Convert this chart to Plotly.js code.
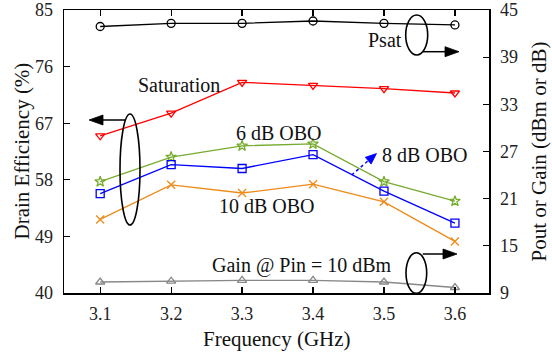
<!DOCTYPE html>
<html>
<head>
<meta charset="utf-8">
<script src="https://cdn.plot.ly/plotly-3.0.1.min.js"></script>
<style>html,body{margin:0;padding:0;background:#fff}#chart{width:552px;height:356px}</style>
</head>
<body>
<div id="chart"></div>
<script>
const freq = [3.1, 3.2, 3.3, 3.4, 3.5, 3.6];
const psat = [42.9, 43.3, 43.3, 43.6, 43.3, 43.1];          // dBm, right axis
const effSat = [65.0, 68.6, 73.5, 73.0, 72.5, 71.8];        // %, left axis
const eff6 = [57.7, 61.6, 63.4, 63.7, 57.7, 54.6];
const eff8 = [55.8, 60.4, 59.8, 62.0, 56.2, 51.1];
const eff10 = [51.7, 57.2, 55.9, 57.3, 54.5, 48.2];
const gain = [10.4, 10.5, 10.6, 10.6, 10.4, 9.7];           // dB, right axis
const xTicks = [3.1, 3.2, 3.3, 3.4, 3.5, 3.6];
const yLeftTicks = [40, 49, 58, 67, 76, 85];
const yRightTicks = [9, 15, 21, 27, 33, 39, 45];

const FONT = '"Liberation Serif", "Times New Roman", Times, serif';

// plot area in pixels
const L = 64, R = 489, T = 10, B = 293;
const px = x => (x - L) / (R - L);
const py = y => (B - y) / (B - T);

function tr(y, color, symbol, yaxis) {
  return {
    x: freq, y: y, type: 'scatter', mode: 'lines+markers', yaxis: yaxis,
    line: {color: color, width: 1.3},
    marker: {symbol: symbol, size: 8, color: color, line: {color: color, width: 1.3}},
    showlegend: false, cliponaxis: false
  };
}

const data = [
  tr(psat, '#000000', 'circle-open', 'y2'),
  tr(effSat, '#ff0000', 'triangle-down-open', 'y'),
  tr(eff6, '#77ac30', 'star-open', 'y'),
  tr(eff8, '#0000ff', 'square-open', 'y'),
  tr(eff10, '#ee8a1a', 'x-thin-open', 'y'),
  tr(gain, '#888888', 'triangle-up-open', 'y2')
];

function ell(x0, x1, y0, y1) {
  return {type: 'circle', xref: 'paper', yref: 'paper',
    x0: px(x0), x1: px(x1), y0: py(y1), y1: py(y0),
    line: {color: '#000', width: 1.6}};
}
// arrow from tail (tx,ty) to head (hx,hy), in pixels
function arrow(tx, ty, hx, hy, color, dash, hl, hw) {
  const dx = hx - tx, dy = hy - ty, len = Math.hypot(dx, dy);
  const ux = dx / len, uy = dy / len, nx = -uy, ny = ux;
  const bx = hx - ux * hl, by = hy - uy * hl;
  const p1 = [bx + nx * hw / 2, by + ny * hw / 2], p2 = [bx - nx * hw / 2, by - ny * hw / 2];
  return [
    {type: 'line', xref: 'paper', yref: 'paper', x0: px(tx), y0: py(ty), x1: px(bx), y1: py(by),
     line: {color: color, width: 1.5, dash: dash}},
    {type: 'path', xref: 'paper', yref: 'paper',
     path: `M${px(hx)},${py(hy)} L${px(p1[0])},${py(p1[1])} L${px(p2[0])},${py(p2[1])} Z`,
     fillcolor: color, line: {color: color, width: 0.8}}
  ];
}

const shapes = [
  ell(120, 140, 114, 225),
  ell(405.7, 427.7, 15, 55),
  ell(406, 426.7, 252.7, 293.3),
  ...arrow(125, 120, 89, 120, '#000', 'solid', 14, 10),
  ...arrow(423, 51.7, 459, 51.7, '#000', 'solid', 14, 10),
  ...arrow(422.7, 254, 457, 254, '#000', 'solid', 14, 10),
  ...arrow(351.7, 175, 376.5, 153.5, '#0000ff', 'dot', 11, 9)
];

function txt(t, x, y, size, angle) {
  return {text: t, xref: 'paper', yref: 'paper', x: px(x), y: py(y), showarrow: false,
    xanchor: 'center', yanchor: 'middle', textangle: angle || 0,
    font: {family: FONT, size: size || 20, color: '#111'}};
}

const annotations = [
  txt('Saturation', 179, 85),
  txt('6 dB OBO', 279, 133),
  txt('8 dB OBO', 425, 155),
  txt('10 dB OBO', 267, 206),
  txt('Gain @ Pin = 10 dBm', 302, 265),
  txt('Psat', 385, 40),
  txt('Frequency (GHz)', 276.5, 339, 21),
  txt('Drain Efficiency (%)', 21, 151.5, 21, -90),
  txt('Pout or Gain (dBm or dB)', 538, 151.5, 21, -90)
];

const axBase = {
  showgrid: false, zeroline: false, showline: true, linecolor: '#000', linewidth: 1.5,
  ticks: 'inside', ticklen: 6, tickwidth: 1.2, tickcolor: '#000',
  tickfont: {family: FONT, size: 18, color: '#222'}
};

const layout = {
  width: 552, height: 356,
  margin: {l: L, r: 552 - R, t: T, b: 356 - B, pad: 0},
  paper_bgcolor: '#fff', plot_bgcolor: '#fff',
  showlegend: false,
  xaxis: Object.assign({}, axBase, {
    range: [3.049, 3.648], tickvals: xTicks, ticktext: xTicks.map(v => v.toFixed(1)),
    mirror: 'ticks', ticklabelstandoff: 4
  }),
  yaxis: Object.assign({}, axBase, {
    range: [40, 85], tickvals: yLeftTicks, mirror: true, ticklabelstandoff: 6
  }),
  yaxis2: Object.assign({}, axBase, {
    range: [9, 45], tickvals: yRightTicks, overlaying: 'y', side: 'right', ticklabelstandoff: 6
  }),
  shapes: shapes,
  annotations: annotations
};

Plotly.newPlot('chart', data, layout, {displayModeBar: false, staticPlot: true});
</script>
</body>
</html>
